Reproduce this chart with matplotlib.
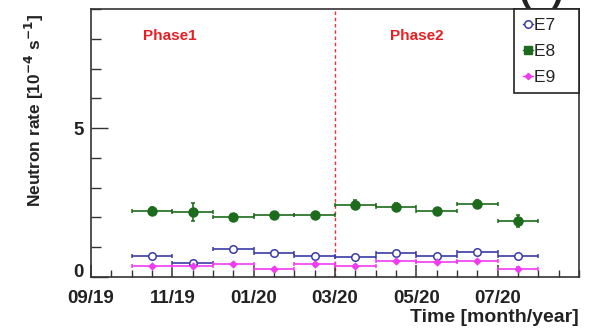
import matplotlib
matplotlib.use("Agg")
import matplotlib.pyplot as plt
from matplotlib.lines import Line2D
import numpy as np

plt.rcParams['font.family'] = ['Liberation Sans', 'DejaVu Sans']

# Months counted from 1 Sep 2019; each bin is one calendar month (Oct 2019 .. Jul 2020)
month_centers = [1.5, 2.5, 3.5, 4.5, 5.5, 6.5, 7.5, 8.5, 9.5, 10.5]
bin_halfwidth = 0.5

e7_rate = [0.72, 0.46, 0.94, 0.82, 0.70, 0.68, 0.80, 0.70, 0.83, 0.72]
e7_err = [0.04, 0.04, 0.04, 0.04, 0.04, 0.04, 0.04, 0.04, 0.04, 0.04]
e8_rate = [2.22, 2.17, 2.00, 2.09, 2.08, 2.43, 2.35, 2.21, 2.44, 1.87]
e8_err = [0.12, 0.30, 0.10, 0.10, 0.10, 0.15, 0.12, 0.12, 0.13, 0.20]
e9_rate = [0.38, 0.38, 0.43, 0.27, 0.43, 0.37, 0.54, 0.50, 0.53, 0.28]
e9_err = [0.04, 0.04, 0.04, 0.04, 0.04, 0.04, 0.04, 0.04, 0.04, 0.04]

tick_positions = [0, 2, 4, 6, 8, 10]
tick_labels = ['09/19', '11/19', '01/20', '03/20', '05/20', '07/20']
phase_boundary = 6.0

c7 = '#3b3ba8'
c8 = '#1d6b1d'
c9 = '#f03cf0'

fig = plt.figure(figsize=(5.94, 3.29), dpi=100)
ax = fig.add_axes([0.1532, 0.158, 0.8215, 0.8146])

def draw(y, yerr, color, marker, ms, mfc):
    ax.errorbar(month_centers, y, xerr=bin_halfwidth, yerr=yerr, fmt=marker,
                color=color, ecolor=color, mfc=mfc, mec=color, ms=ms,
                elinewidth=1.2, capsize=1.6, capthick=1.0, mew=1.1, zorder=3)

draw(e7_rate, e7_err, c7, 'o', 5.4, 'white')
draw(e8_rate, e8_err, c8, 'o', 6.4, c8)
draw(e9_rate, e9_err, c9, 'D', 3.2, c9)

ax.axvline(phase_boundary, color='#ff2a2a', ls=(0, (2.5, 2)), lw=1.0, zorder=1)

ax.set_xlim(0, 12)
ax.set_ylim(0, 9)

ax.set_xticks(tick_positions)
ax.set_xticklabels(tick_labels)
ax.set_xticks(np.arange(0, 12.01, 0.5), minor=True)
ax.set_yticks([0, 5])
ax.set_yticks(np.arange(0, 9.01, 1), minor=True)

ax.tick_params(axis='both', which='both', direction='in', colors='#333333',
               labelcolor='#222222')
ax.tick_params(axis='x', which='major', length=9, width=1.1, pad=9, labelsize=13.5)
ax.tick_params(axis='x', which='minor', length=5, width=1.0)
ax.tick_params(axis='y', which='major', length=12, width=1.0, pad=5, labelsize=13.5)
ax.tick_params(axis='y', which='minor', length=7, width=1.0)
for lab in ax.get_xticklabels() + ax.get_yticklabels():
    lab.set_fontweight('bold')
ax.get_yticklabels()[0].set_verticalalignment('baseline')

for sp in ax.spines.values():
    sp.set_color('#333333')
    sp.set_linewidth(1.2)

ax.set_ylabel(r'Neutron rate [10$^{\mathbf{-4}}$ s$^{\mathbf{-1}}$]', fontsize=12.5,
              fontweight='bold', color='#222222')
ax.yaxis.set_label_coords(-0.093, 0.62)
ax.set_xlabel('Time [month/year]', fontsize=14, fontweight='bold', color='#222222')
ax.xaxis.set_label_coords(1.0, -0.152)
ax.xaxis.label.set_horizontalalignment('right')
ax.xaxis.label.set_verticalalignment('center')

ax.text(1.93, 8.1, 'Phase1', color='#e81e24', fontsize=11, fontweight='bold',
        ha='center', va='center')
ax.text(8.0, 8.1, 'Phase2', color='#e81e24', fontsize=11, fontweight='bold',
        ha='center', va='center')

handles = [
    Line2D([], [], color=c7, marker='o', mfc='white', mec=c7, ms=5.4, lw=1.0, mew=1.1),
    Line2D([], [], color=c8, marker='s', mfc=c8, mec=c8, ms=5.5, lw=1.0),
    Line2D([], [], color=c9, marker='D', mfc=c9, mec=c9, ms=3.2, lw=1.0),
]
leg = ax.legend(handles, ['E7   ', 'E8   ', 'E9   '], loc='upper right',
                bbox_to_anchor=(1.0, 1.0), borderaxespad=0, fontsize=12.5,
                handlelength=0.55, handletextpad=0.1, labelspacing=0.62,
                borderpad=0.5, fancybox=False, framealpha=1,
                edgecolor='#222222')
leg.get_frame().set_linewidth(1.2)
for t in leg.get_texts():
    t.set_color('#222222')

fig.text(0.912, 1.0, '(b)', fontsize=26, fontweight='bold', ha='center',
         va='baseline', color='#222222')

fig.savefig('out.png', dpi=100)
